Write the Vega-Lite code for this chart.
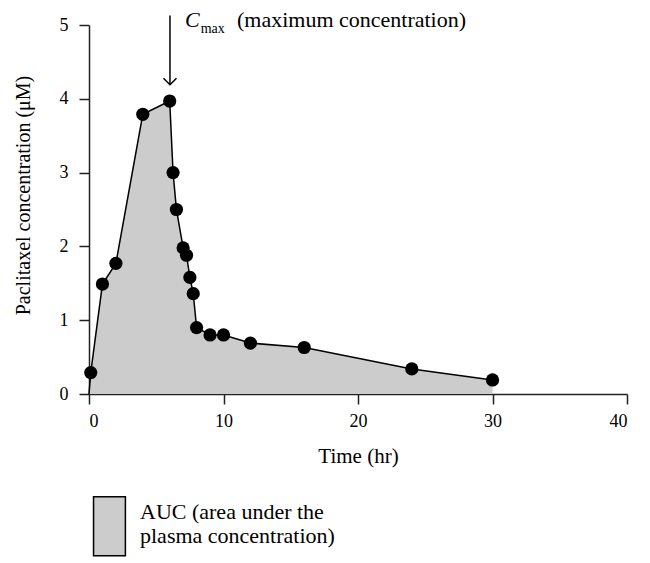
{
  "$schema": "https://vega.github.io/schema/vega-lite/v6.json",
  "width": 538,
  "height": 369,
  "autosize": {"type": "none"},
  "padding": {"left": 89, "top": 25, "right": 23, "bottom": 169},
  "background": "white",
  "datasets": {
    "profile": [
      {"time": 0, "conc": 0, "measured": false},
      {"time": 0.13, "conc": 0.29, "measured": true},
      {"time": 1, "conc": 1.49, "measured": true},
      {"time": 2, "conc": 1.77, "measured": true},
      {"time": 4, "conc": 3.79, "measured": true},
      {"time": 6, "conc": 3.97, "measured": true},
      {"time": 6.25, "conc": 3.0, "measured": true},
      {"time": 6.5, "conc": 2.5, "measured": true},
      {"time": 7, "conc": 1.98, "measured": true},
      {"time": 7.25, "conc": 1.88, "measured": true},
      {"time": 7.5, "conc": 1.58, "measured": true},
      {"time": 7.75, "conc": 1.36, "measured": true},
      {"time": 8, "conc": 0.9, "measured": true},
      {"time": 9, "conc": 0.8, "measured": true},
      {"time": 10, "conc": 0.8, "measured": true},
      {"time": 12, "conc": 0.69, "measured": true},
      {"time": 16, "conc": 0.63, "measured": true},
      {"time": 24, "conc": 0.34, "measured": true},
      {"time": 30, "conc": 0.19, "measured": true}
    ]
  },
  "data": {"name": "profile"},
  "layer": [
    {
      "mark": {"type": "area", "opacity": 1, "clip": false},
      "encoding": {
        "x": {"field": "time", "type": "quantitative", "scale": {"domain": [0, 40], "nice": false}, "axis": {"title": "Time (hr)", "values": [0, 10, 20, 30, 40], "format": "d", "labelFont": "Liberation Serif", "labelFontSize": 18, "labelPadding": 8, "titlePadding": 15, "titleFontSize": 21}},
        "y": {"field": "conc", "type": "quantitative", "scale": {"domain": [0, 5], "nice": false}, "axis": {"title": "Paclitaxel concentration (μM)", "values": [0, 1, 2, 3, 4, 5], "format": "d", "labelFont": "Liberation Serif", "labelFontSize": 18, "labelPadding": 11, "titlePadding": 26, "titleY": 170, "titleFont": "Liberation Serif"}},
        "fill": {
          "datum": "AUC (area under the|plasma concentration)",
          "type": "nominal",
          "scale": {"range": ["#cccccc"]},
          "legend": {
            "title": null,
            "orient": "bottom",
            "direction": "vertical",
            "padding": 0,
            "offset": 15,
            "labelFont": "Liberation Serif",
            "labelFontSize": 22,
            "labelColor": "black",
            "labelLimit": 0,
            "labelOffset": -10,
            "labelExpr": "split(datum.label, '|')",
            "symbolType": "M-0.88,-0.5L0.2,-0.5L0.2,1.5L-0.88,1.5Z",
            "symbolSize": 3481,
            "symbolStrokeColor": "black",
            "symbolStrokeWidth": 1.5,
            "symbolOpacity": 1
          }
        }
      }
    },
    {
      "mark": {"type": "line", "color": "black", "strokeWidth": 1.5},
      "encoding": {
        "x": {"field": "time", "type": "quantitative"},
        "y": {"field": "conc", "type": "quantitative"}
      }
    },
    {
      "transform": [{"filter": "datum.measured"}],
      "mark": {"type": "point", "filled": true, "shape": "circle", "size": 175, "color": "black", "opacity": 1},
      "encoding": {
        "x": {"field": "time", "type": "quantitative"},
        "y": {"field": "conc", "type": "quantitative"}
      }
    },
    {
      "data": {"values": [{}]},
      "mark": {"type": "rule", "color": "black", "strokeWidth": 1.5, "clip": false},
      "encoding": {
        "x": {"datum": 6.02, "type": "quantitative"},
        "y": {"datum": 5.13, "type": "quantitative"},
        "y2": {"datum": 4.19}
      }
    },
    {
      "data": {"values": [{}]},
      "mark": {"type": "point", "shape": "M-1,-1L0,0L1,-1", "filled": false, "stroke": "black", "strokeWidth": 1.5, "size": 170, "opacity": 1, "clip": false},
      "encoding": {
        "x": {"datum": 6.02, "type": "quantitative"},
        "y": {"datum": 4.19, "type": "quantitative"}
      }
    },
    {
      "data": {"values": [{}]},
      "mark": {"type": "text", "text": "C", "font": "Liberation Serif", "fontStyle": "italic", "fontSize": 22, "align": "left", "baseline": "alphabetic", "color": "black", "clip": false},
      "encoding": {
        "x": {"datum": 7.14, "type": "quantitative"},
        "y": {"datum": 4.97, "type": "quantitative"}
      }
    },
    {
      "data": {"values": [{}]},
      "mark": {"type": "text", "text": "max", "font": "Liberation Serif", "fontSize": 14, "align": "left", "baseline": "alphabetic", "color": "black", "clip": false},
      "encoding": {
        "x": {"datum": 8.3, "type": "quantitative"},
        "y": {"datum": 4.89, "type": "quantitative"}
      }
    },
    {
      "data": {"values": [{}]},
      "mark": {"type": "text", "text": "(maximum concentration)", "font": "Liberation Serif", "fontSize": 22, "align": "left", "baseline": "alphabetic", "color": "black", "clip": false},
      "encoding": {
        "x": {"datum": 11.0, "type": "quantitative"},
        "y": {"datum": 4.97, "type": "quantitative"}
      }
    }
  ],
  "config": {
    "view": {"stroke": null},
    "axis": {
      "grid": false,
      "domainColor": "#222222",
      "domainWidth": 1.5,
      "tickColor": "#222222",
      "tickWidth": 1.5,
      "tickSize": 10,
      "labelFont": "Liberation Serif",
      "labelFontSize": 18,
      "labelColor": "black",
      "titleFont": "Liberation Serif",
      "titleFontSize": 20,
      "titleFontWeight": "normal",
      "titleColor": "black"
    }
  }
}
